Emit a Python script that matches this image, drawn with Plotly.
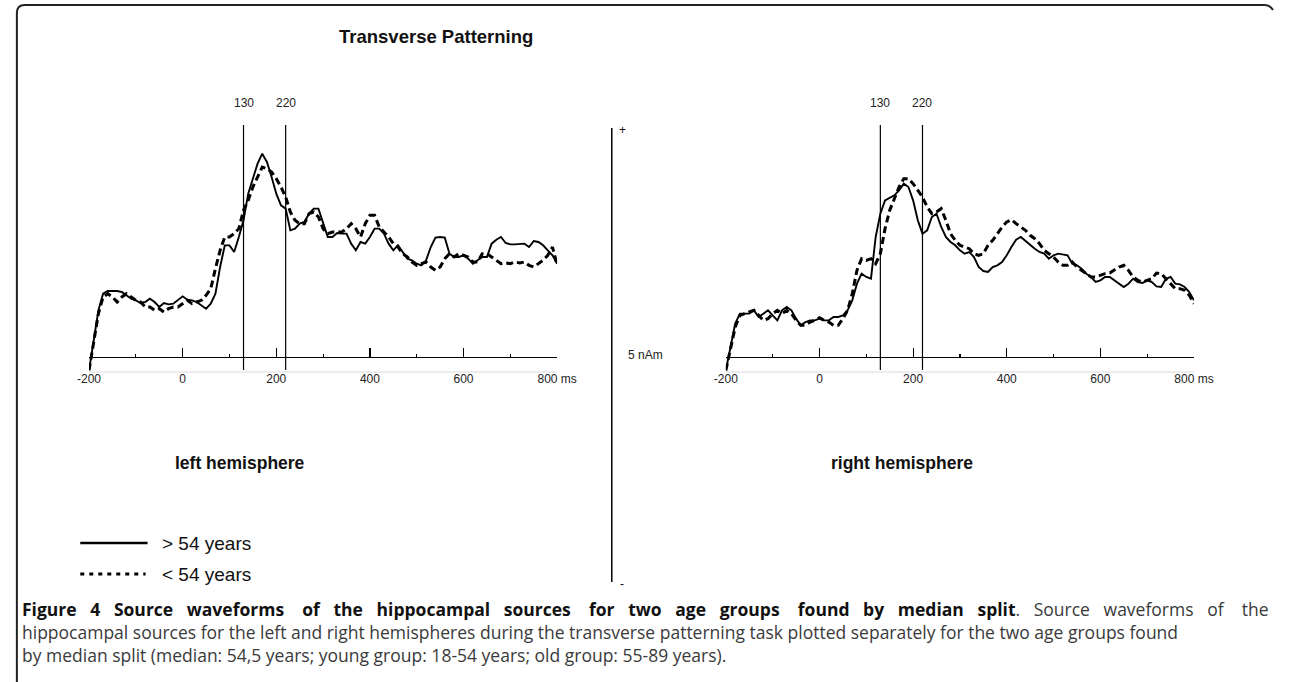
import plotly.graph_objects as go

W, H = 1292, 682

# ---------------- data (amplitude, arbitrary units; 5 nAm scale) ----------------
time_ms = list(range(-200, 810, 10))

left_old = [-4.0, 5.0, 14.0, 19.0, 19.8, 19.8, 19.8, 19.5, 18.5, 17.5,
            17.0, 16.2, 16.5, 17.5, 16.5, 15.0, 16.2, 15.8, 16.0, 17.0,
            18.2, 17.2, 17.0, 16.5, 15.5, 14.5, 16.0, 19.0, 27.0, 33.5,
            33.5, 31.5, 36.0, 41.0, 49.0, 53.5, 58.0, 61.0, 58.5, 54.0,
            49.0, 45.5, 44.5, 38.0, 38.5, 40.0, 40.5, 43.0, 44.5, 44.5,
            40.0, 36.0, 36.0, 37.2, 37.0, 37.0, 34.0, 32.0, 34.5, 34.0,
            36.0, 38.5, 38.5, 37.0, 34.0, 32.0, 33.5, 31.5, 29.5, 29.0,
            28.0, 27.5, 29.0, 33.0, 35.8, 36.0, 35.8, 31.0, 30.0, 30.0,
            30.5, 29.5, 28.0, 29.0, 30.0, 30.0, 34.0, 35.2, 36.0, 34.2,
            33.8, 33.8, 34.0, 34.0, 33.0, 34.8, 34.5, 33.5, 32.0, 30.5,
            28.0]

left_young = [-4.0, 4.0, 13.0, 18.0, 19.0, 18.0, 16.5, 18.0, 19.0, 18.0,
              17.0, 16.5, 15.0, 15.0, 14.0, 14.5, 13.5, 14.5, 15.0, 15.0,
              16.0, 17.0, 16.0, 16.5, 17.0, 18.5, 20.5, 26.5, 32.0, 36.0,
              36.0, 37.0, 38.5, 44.0, 47.0, 51.0, 54.0, 57.0, 56.5, 55.5,
              53.5, 51.0, 48.0, 43.5, 41.0, 40.0, 40.0, 43.0, 43.5, 42.0,
              38.5, 37.0, 37.5, 37.5, 37.5, 38.5, 40.0, 38.5, 36.0, 40.0,
              42.5, 42.5, 39.0, 37.5, 36.0, 34.0, 33.0, 31.0, 30.0, 28.5,
              27.5, 28.0, 28.5, 27.0, 26.0, 27.0, 29.5, 31.0, 30.0, 31.0,
              30.5, 30.0, 28.5, 28.5, 31.0, 31.0, 30.0, 29.0, 28.0, 28.2,
              28.0, 28.5, 28.2, 28.5, 27.5, 27.0, 28.0, 29.0, 30.5, 33.0,
              27.5]

right_old = [-4.0, 3.0, 10.0, 13.0, 13.0, 13.0, 14.0, 12.0, 13.0, 14.0,
             12.5, 11.0, 14.0, 15.0, 14.0, 11.5, 9.5, 10.5, 11.0, 11.0,
             11.5, 11.0, 11.0, 12.0, 12.0, 12.5, 14.0, 17.0, 22.0, 25.0,
             24.0, 23.5, 36.0, 43.0, 47.0, 47.8, 48.5, 50.0, 52.0, 51.0,
             47.0, 41.0, 37.0, 38.0, 42.0, 43.0, 39.0, 36.0, 34.5, 33.5,
             32.0, 31.0, 31.5, 30.0, 27.0, 25.8, 25.5, 27.0, 27.5, 28.5,
             30.5, 33.0, 35.2, 36.0, 34.8, 33.5, 32.5, 31.5, 31.0, 29.5,
             30.5, 31.0, 30.8, 30.5, 28.0, 27.5, 26.5, 25.0, 24.0, 22.5,
             23.0, 24.0, 24.0, 23.0, 22.0, 21.0, 22.0, 23.5, 22.5, 22.2,
             23.0, 22.5, 21.2, 21.0, 23.5, 24.0, 22.0, 21.8, 21.0, 19.5,
             17.0]

right_young = [-4.0, 3.0, 9.0, 12.5, 13.0, 13.5, 14.0, 12.5, 11.0, 11.5,
               13.0, 14.0, 13.0, 14.0, 13.0, 11.0, 9.5, 9.5, 10.5, 11.0,
               11.8, 11.0, 10.5, 9.5, 9.5, 11.5, 14.0, 19.0, 26.0, 29.5,
               29.0, 29.5, 28.0, 31.0, 38.5, 44.0, 47.5, 51.0, 53.5, 53.5,
               52.0, 50.0, 48.0, 45.0, 43.0, 43.5, 44.5, 41.0, 37.0, 35.0,
               33.5, 33.0, 32.5, 31.0, 30.5, 31.0, 33.5, 35.0, 37.0, 39.0,
               40.5, 41.2, 40.0, 39.0, 38.0, 36.5, 35.5, 34.0, 32.0, 31.0,
               30.0, 28.5, 27.5, 27.5, 28.5, 27.0, 26.0, 25.0, 24.0, 24.0,
               24.5, 25.0, 25.2, 26.0, 27.0, 27.5, 26.0, 24.0, 23.0, 22.5,
               23.0, 23.5, 25.2, 25.0, 23.5, 22.0, 20.5, 20.5, 20.0, 18.5,
               16.0]

markers_ms = [130, 220]
tick_vals = [-200, 0, 200, 400, 600, 800]
tick_text = ["-200", "0", "200", "400", "600", "800 ms"]
legend_labels = ["> 54 years", "< 54 years"]
panel_titles = ["left hemisphere", "right hemisphere"]
chart_title = "Transverse Patterning"
caption_bold = ("Figure 4 Source waveforms of the hippocampal sources for two age groups "
                "found by median split")
caption_rest = [
    ". Source waveforms of the",
    "hippocampal sources for the left and right hemispheres during the transverse patterning "
    "task plotted separately for the two age groups found",
    "by median split (median: 54,5 years; young group: 18-54 years; old group: 55-89 years).",
]

# ---------------- helpers (pixel -> paper) ----------------
def px(x):
    return x / W

def py(y):
    return 1 - y / H

AX_Y = 357          # pixel row of the time axis
PLOT_TOP, PLOT_BOT = 118, 374
UNIT = 10 / 3       # pixels per amplitude unit
y_range = [-(PLOT_BOT - AX_Y) / UNIT, (AX_Y - PLOT_TOP) / UNIT]
y_domain = [py(PLOT_BOT), py(PLOT_TOP)]

FONT = "Liberation Sans, Arial, sans-serif"
DASH_STYLE = "7px,4px"

fig = go.Figure()

panels = [
    dict(xa="x", ya="y", old=left_old, young=left_young),
    dict(xa="x2", ya="y2", old=right_old, young=right_young),
]

for p in panels:
    fig.add_trace(go.Scatter(x=time_ms, y=p["young"], xaxis=p["xa"], yaxis=p["ya"],
                             mode="lines", name=legend_labels[1], showlegend=False,
                             hoverinfo="skip",
                             line=dict(color="black", width=3, dash=DASH_STYLE)))
    fig.add_trace(go.Scatter(x=time_ms, y=p["old"], xaxis=p["xa"], yaxis=p["ya"],
                             mode="lines", name=legend_labels[0], showlegend=False,
                             hoverinfo="skip",
                             line=dict(color="black", width=1.9)))

axis_common = dict(
    range=[-200, 800], anchor="free", position=py(AX_Y),
    showline=True, linecolor="black", linewidth=1.3,
    ticks="inside", ticklen=9, tickwidth=1.2, tickcolor="black",
    tickvals=tick_vals, ticktext=tick_text, ticklabelstandoff=10,
    tickfont=dict(family=FONT, size=12, color="#222"),
    minor=dict(ticks="inside", ticklen=3, tickwidth=1.2, tickcolor="black", dtick=100, tick0=-200),
    showgrid=False, zeroline=False, fixedrange=True,
)
yaxis_common = dict(range=y_range, domain=y_domain, visible=False, fixedrange=True)

fig.update_layout(
    width=W, height=H, margin=dict(l=0, r=0, t=0, b=0),
    paper_bgcolor="white", plot_bgcolor="rgba(0,0,0,0)",
    showlegend=False,
    xaxis=dict(domain=[px(79), px(559)], **axis_common),
    xaxis2=dict(domain=[px(732), px(1212)], **axis_common),
    yaxis=dict(anchor="x", **yaxis_common),
    yaxis2=dict(anchor="x2", **yaxis_common),
)

shapes = []
annotations = []

# vertical marker lines + labels
for p in panels:
    for m in markers_ms:
        shapes.append(dict(type="line", xref=p["xa"], yref="paper", x0=m, x1=m,
                           y0=py(370), y1=py(125), line=dict(color="black", width=1.2)))
        annotations.append(dict(xref=p["xa"], yref="paper", x=m, y=py(103), text=str(m),
                                showarrow=False, xanchor="center", yanchor="middle",
                                font=dict(family=FONT, size=12, color="#222")))
    # faint grey baseline below the axis
    shapes.append(dict(type="line", xref=p["xa"], yref="paper", x0=-200, x1=800,
                       y0=py(372), y1=py(372), line=dict(color="#dadada", width=1)))

# central scale bar
shapes.append(dict(type="line", xref="paper", yref="paper", x0=px(615), x1=px(615),
                   y0=py(582), y1=py(128), line=dict(color="black", width=1.5)))
annotations += [
    dict(xref="paper", yref="paper", x=px(626), y=py(130), text="+", showarrow=False,
         xanchor="center", yanchor="middle", font=dict(family=FONT, size=12, color="#111")),
    dict(xref="paper", yref="paper", x=px(625), y=py(584), text="-", showarrow=False,
         xanchor="center", yanchor="middle", font=dict(family=FONT, size=12, color="#111")),
    dict(xref="paper", yref="paper", x=px(630), y=py(355), text="5 nAm", showarrow=False,
         xanchor="left", yanchor="middle", font=dict(family=FONT, size=12, color="#222")),
]

# title
annotations.append(dict(xref="paper", yref="paper", x=px(333), y=py(37),
                        text="<b>" + chart_title + "</b>", showarrow=False,
                        xanchor="left", yanchor="middle",
                        font=dict(family=FONT, size=18.5, color="#111")))

# panel labels
for txt, xl in zip(panel_titles, [165, 838]):
    annotations.append(dict(xref="paper", yref="paper", x=px(xl), y=py(463),
                            text="<b>" + txt + "</b>", showarrow=False,
                            xanchor="left", yanchor="middle",
                            font=dict(family=FONT, size=17.5, color="#111")))

# legend
shapes.append(dict(type="line", xref="paper", yref="paper", x0=px(70), x1=px(139),
                   y0=py(543), y1=py(543), line=dict(color="black", width=2.5)))
shapes.append(dict(type="line", xref="paper", yref="paper", x0=px(70), x1=px(137),
                   y0=py(574), y1=py(574), line=dict(color="black", width=3, dash="4px,5px")))
for txt, yy in zip(legend_labels, [543, 574]):
    annotations.append(dict(xref="paper", yref="paper", x=px(152), y=py(yy), text=txt,
                            showarrow=False, xanchor="left", yanchor="middle",
                            font=dict(family=FONT, size=19, color="#111")))

# figure border (rounded top-left corner)
border = (f"M {px(5)},{py(690)} L {px(5)},{py(13)} Q {px(5)},{py(5)} {px(13)},{py(5)} "
          f"L {px(1284)},{py(5)} Q {px(1290)},{py(5)} {px(1293)},{py(10)}")
shapes.append(dict(type="path", xref="paper", yref="paper", path=border,
                   line=dict(color="#222", width=2)))

# caption (first line justified by widened word gaps)
CAP_FONT = "Open Sans, Noto Sans, sans-serif"
GAP3 = " \u00a0\u00a0"
GAP4 = " \u00a0\u00a0\u00a0"

def spread(words, start):
    out = words[0]
    for i, w in enumerate(words[1:]):
        out += (GAP4 if (i + start) % 4 == 3 else GAP3) + w
    return out

bold_words = caption_bold.split(" ")
rest_words = caption_rest[0][2:].split(" ")
line1 = ("<b>" + spread(bold_words, 0) + "</b>"
         + "<span style='color:#3a3a3a'>." + GAP3 + spread(rest_words, 1) + "</span>")
caption_lines = [
    (line1, 609),
    ("<span style='color:#3a3a3a'>" + caption_rest[1] + "</span>", 632),
    ("<span style='color:#3a3a3a'>" + caption_rest[2] + "</span>", 655),
]
for txt, yy in caption_lines:
    annotations.append(dict(xref="paper", yref="paper", x=px(8), y=py(yy), text=txt,
                            showarrow=False, xanchor="left", yanchor="middle",
                            font=dict(family=CAP_FONT, size=17.5, color="#111")))

fig.update_layout(shapes=shapes, annotations=annotations)

fig.write_html("out.html", config={"displayModeBar": False, "staticPlot": True},
               post_script="document.body.style.margin='0';document.body.style.overflow='hidden';")
